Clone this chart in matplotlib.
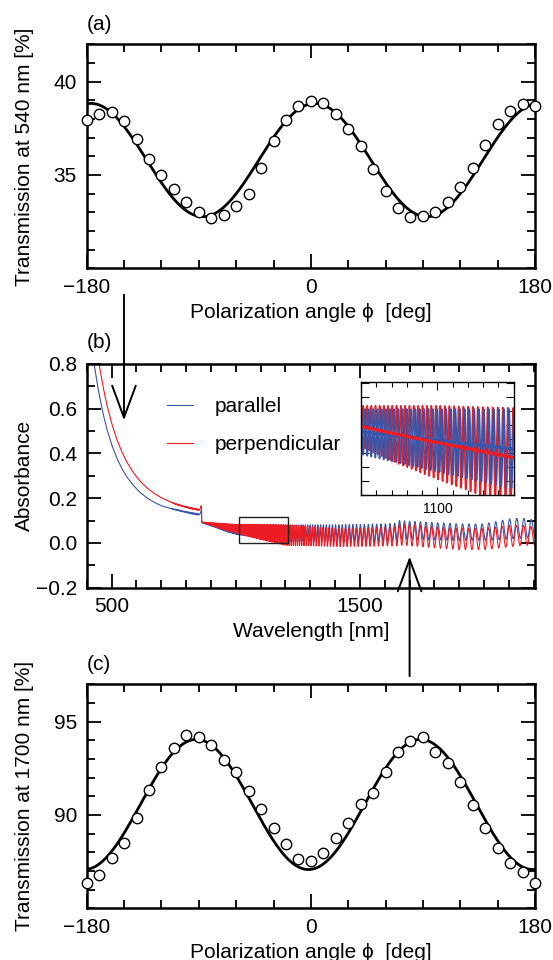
import numpy as np
import matplotlib
matplotlib.use('Agg')
import matplotlib.pyplot as plt
from matplotlib.ticker import MultipleLocator, FixedLocator, NullFormatter
from matplotlib.patches import Rectangle

plt.rcParams['font.family'] = ['Liberation Sans', 'DejaVu Sans']
plt.rcParams['font.size'] = 15
plt.rcParams['axes.linewidth'] = 1.8

BLUE = '#3a55a8'
RED = '#ec1c24'

# (a) / (c): transmission vs polarization angle
phi = np.arange(-180, 181, 10)
t540 = [37.93, 38.28, 38.35, 37.87, 36.93, 35.87, 35.00, 34.27, 33.53, 33.03,
        32.68, 32.85, 33.35, 33.97, 35.35, 36.84, 37.93, 38.72, 38.99, 38.85,
        38.26, 37.48, 36.54, 35.30, 34.13, 33.24, 32.73, 32.82, 33.00, 33.53,
        34.38, 35.39, 36.60, 37.73, 38.44, 38.79, 38.72]
t1700 = [86.37, 86.80, 87.68, 88.48, 89.82, 91.36, 92.57, 93.57, 94.29, 94.20,
         93.75, 92.93, 92.29, 91.29, 90.34, 89.29, 88.45, 87.66, 87.54, 87.95,
         88.79, 89.57, 90.59, 91.16, 92.29, 93.36, 93.98, 94.18, 93.38, 92.79,
         91.75, 90.54, 89.29, 88.25, 87.41, 86.96, 86.37]

# (b): absorbance spectra, read as local mean level and fringe half-amplitude
wl_base = [425, 430, 440, 450, 465, 480, 500, 520, 540, 560, 585, 613, 640, 670,
           700, 730, 760, 790, 820, 850, 855, 859, 862, 862.5,
           880, 920, 960, 1000, 1050, 1100, 1150, 1200, 1300, 1400, 1500, 1600,
           1648, 1652, 1700, 1800, 1900, 2000, 2100, 2150, 2210]
par_base = [0.83, 0.80, 0.726, 0.663, 0.581, 0.513, 0.440, 0.382, 0.335, 0.297,
            0.260, 0.227, 0.203, 0.182, 0.166, 0.156, 0.148, 0.140, 0.133, 0.127,
            0.127, 0.140, 0.142, 0.090,
            0.086, 0.078, 0.068, 0.059, 0.055, 0.051, 0.047, 0.043, 0.044, 0.044,
            0.045, 0.046, 0.048, 0.058, 0.056, 0.052, 0.048, 0.048, 0.062, 0.066, 0.062]
perp_base = [0.99, 0.955, 0.871, 0.797, 0.702, 0.622, 0.536, 0.466, 0.410, 0.364,
             0.318, 0.278, 0.248, 0.222, 0.202, 0.186, 0.173, 0.163, 0.155, 0.148,
             0.148, 0.163, 0.166, 0.094,
             0.089, 0.080, 0.071, 0.064, 0.056, 0.049, 0.042, 0.035, 0.030, 0.025,
             0.025, 0.028, 0.030, 0.036, 0.035, 0.025, 0.018, 0.018, 0.030, 0.034, 0.030]
par_amp = [0] * 16 + [0.002, 0.002, 0.003, 0.003] + [0, 0, 0, 0] + \
          [0.003, 0.010, 0.017, 0.021, 0.025, 0.029, 0.033, 0.037, 0.037, 0.037,
           0.038, 0.039, 0.040, 0.043, 0.041, 0.039, 0.037, 0.037, 0.045, 0.045, 0.040]
perp_amp = [0] * 16 + [0.002, 0.002, 0.003, 0.003] + [0, 0, 0, 0] + \
           [0.003, 0.009, 0.015, 0.019, 0.027, 0.034, 0.040, 0.046, 0.043, 0.041,
            0.041, 0.042, 0.043, 0.046, 0.047, 0.047, 0.048, 0.048, 0.048, 0.045, 0.040]
# apparent fringe spacing [nm] and red/blue fringe offset [cycles]
wl_per = [700, 863, 1000, 1100, 1200, 1400, 1600, 1800, 2000, 2210]
fringe_per = [3.0, 4.2, 5.3, 5.8, 6.8, 13, 18, 24, 27, 30]
wl_off = [700, 1000, 1200, 1650, 2210]
fringe_off = [0.5, 0.5, 0.15, 0.05, 0.05]

arrow_wl = [550, 1700]


def cos2fit(x, y, xf):
    r = np.radians(x)
    A = np.column_stack([np.ones_like(r), np.cos(2 * r), np.sin(2 * r)])
    c = np.linalg.lstsq(A, np.asarray(y), rcond=None)[0]
    rf = np.radians(xf)
    return c[0] + c[1] * np.cos(2 * rf) + c[2] * np.sin(2 * rf)


def style(ax, major_len=10, minor_len=5.5, width=1.3):
    ax.tick_params(which='both', direction='in', top=True, right=True, width=width)
    ax.tick_params(which='major', length=major_len, pad=7)
    ax.tick_params(which='minor', length=minor_len)


fig = plt.figure(figsize=(5.53, 9.6), dpi=100)
L, Wd, Ht = 0.1568, 0.8107, 0.2333
ax_a = fig.add_axes([L, 0.7205, Wd, Ht])
ax_b = fig.add_axes([L, 0.3878, Wd, Ht])
ax_c = fig.add_axes([L, 0.0539, Wd, Ht])

phif = np.linspace(-180, 180, 721)
for ax, t, lim, yt, lab in [(ax_a, t540, (30, 42), [35, 40], 'Transmission at 540 nm [%]'),
                            (ax_c, t1700, (85, 97), [90, 95], 'Transmission at 1700 nm [%]')]:
    ax.plot(phif, cos2fit(phi, t, phif), color='k', lw=2.0, zorder=2)
    ax.plot(phi, t, 'o', ms=7.5, mfc='white', mec='k', mew=1.0, zorder=3, clip_on=False)
    ax.set_xlim(-180, 180)
    ax.set_ylim(*lim)
    ax.xaxis.set_major_locator(MultipleLocator(180))
    ax.xaxis.set_minor_locator(MultipleLocator(30))
    ax.yaxis.set_major_locator(FixedLocator(yt))
    ax.yaxis.set_minor_locator(MultipleLocator(1))
    style(ax)
    ax.set_xlabel('Polarization angle \u03d5  [deg]', labelpad=4)
    ax.set_ylabel(lab)
    ax.yaxis.set_label_coords(-0.118, 0.5)

# spectra
wl = np.arange(420, 2210, 0.1)
phase = 2 * np.pi * np.concatenate([[0], np.cumsum(np.diff(wl) / np.interp(wl[1:], wl_per, fringe_per))])
off = 2 * np.pi * np.interp(wl, wl_off, fringe_off)
par = np.interp(wl, wl_base, par_base) + np.interp(wl, wl_base, par_amp) * np.cos(phase)
perp = np.interp(wl, wl_base, perp_base) + np.interp(wl, wl_base, perp_amp) * np.cos(phase + off)

ax_b.plot(wl, par, color=BLUE, lw=0.8, label='parallel')
ax_b.plot(wl, perp, color=RED, lw=0.8, label='perpendicular')
ax_b.set_xlim(400, 2205)
ax_b.set_ylim(-0.2, 0.8)
ax_b.xaxis.set_major_locator(FixedLocator([500, 1500]))
ax_b.xaxis.set_minor_locator(MultipleLocator(100))
ax_b.yaxis.set_major_locator(MultipleLocator(0.2))
ax_b.yaxis.set_minor_locator(MultipleLocator(0.1))
style(ax_b)
ax_b.set_xlabel('Wavelength [nm]', labelpad=4)
ax_b.set_ylabel('Absorbance')
ax_b.yaxis.set_label_coords(-0.118, 0.5)
ax_b.legend(frameon=False, loc='upper left', bbox_to_anchor=(0.18, 0.852),
            borderaxespad=0, borderpad=0, handlelength=1.25, handletextpad=1.0,
            labelspacing=0.93)
ax_b.add_patch(Rectangle((1015, 0.0), 195, 0.115, fill=False, ec='#222222', lw=1.0, zorder=4))

arrow_kw = dict(arrowstyle='->,head_length=2.3,head_width=0.85', lw=1.4, color='k',
                shrinkA=0, shrinkB=0, mutation_scale=10)
ax_b.annotate('', xy=(arrow_wl[0], 0.547), xytext=(arrow_wl[0], 1.108),
              arrowprops=arrow_kw, annotation_clip=False)
ax_b.annotate('', xy=(arrow_wl[1], -0.061), xytext=(arrow_wl[1], -0.595),
              arrowprops=arrow_kw, annotation_clip=False)

# inset
ax_in = fig.add_axes([0.6530, 0.4839, 0.2760, 0.1182])
m = (wl > 995) & (wl < 1205)
ax_in.plot(wl[m], perp[m], color=RED, lw=1.2)
ax_in.plot(wl[m], par[m], color=BLUE, lw=1.2)
ax_in.plot(wl[m], np.interp(wl[m], wl_base, par_base), color=BLUE, lw=2.4)
ax_in.plot(wl[m], np.interp(wl[m], wl_base, perp_base), color=RED, lw=2.4)
ax_in.set_xlim(1000, 1200)
ax_in.set_ylim(0, 0.105)
ax_in.xaxis.set_major_locator(FixedLocator([1100]))
ax_in.xaxis.set_minor_locator(MultipleLocator(20))
ax_in.yaxis.set_major_locator(MultipleLocator(0.013))
ax_in.yaxis.set_major_formatter(NullFormatter())
for s in ax_in.spines.values():
    s.set_linewidth(1.0)
ax_in.tick_params(which='both', direction='in', top=True, right=True, width=0.8, labelsize=10)
ax_in.tick_params(which='major', length=6, pad=5)
ax_in.tick_params(which='minor', length=3.5)

fig.text(86.7 / 553, 1 - 24 / 960, '(a)', ha='left', va='center')
fig.text(86.7 / 553, 1 - 343 / 960, '(b)', ha='left', va='center')
fig.text(86.7 / 553, 1 - 665 / 960, '(c)', ha='left', va='center')

fig.savefig('out.png', dpi=100)
